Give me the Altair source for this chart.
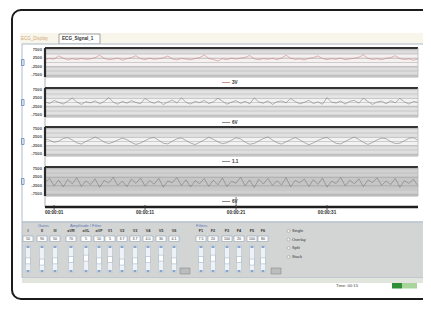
import altair as alt
import pandas as pd

# ---------------- data ----------------
trace1 = [1.8, 2.3, 2.0, 3.9, 2.6, 1.5, 2.2, 1.7, 2.4, 1.9,
          2.1, 2.8, 4.3, 2.5, 1.6, 2.0, 2.6, 1.4, 2.2, 2.9,
          4.0, 2.3, 1.7, 2.5, 1.9, 2.2, 2.8, 3.8, 2.1, 1.5,
          2.4, 2.0, 1.6, 2.3, 2.9, 4.4, 2.4, 1.8, 0.9, 2.2,
          1.7, 2.5, 2.0, 2.6, 3.0, 4.1, 2.2, 1.6, 2.3, 1.9,
          2.5, 1.7, 2.7, 4.2, 2.6, 1.8, 2.1, 1.5, 2.4, 2.9,
          3.9, 2.3, 1.7, 2.2, 1.9, 2.6, 1.6, 2.1, 2.5, 3.1,
          4.5, 2.4, 1.8, 2.2, 1.6, 2.5, 2.9, 4.0, 2.3, 1.7,
          2.1, 1.4, 2.0]
trace2 = [0.4, -0.6, 1.2, 0.1, -0.9, 0.8, 2.6, 0.3, -1.1, 0.5,
          -0.2, 1.0, -0.8, 0.6, 2.9, 0.2, -1.0, 0.7, -0.4, 1.1,
          0.0, -0.7, 2.4, 0.6, -0.5, 0.9, -1.2, 0.3, 1.4, -0.3,
          2.8, 0.1, -0.9, 0.6, -0.1, 1.2, -0.6, 0.4, 2.5, 0.8,
          -1.0, 0.2, 1.1, -0.5, 0.7, -0.8, 2.7, 0.3, -0.4, 1.0,
          -1.1, 0.5, 0.9, -0.2, 2.3, 0.6, -0.8, 0.1, 1.3, -0.6,
          0.4, -1.0, 2.9, 0.2, -0.3, 0.9, -0.9, 0.7, 1.2, -0.4,
          2.6, 0.5, -1.1, 0.3, 0.8, -0.7, 1.0, -0.2, 2.4, 0.4,
          -0.9, 0.6, 0.1]
trace3 = [1.5, 0.8, -0.5, 0.2, 1.8, 2.3, 0.9, -0.8, -1.5, 0.1,
          1.2, 2.6, 1.4, -0.3, -1.2, -0.4, 0.9, 2.0, 1.1, -0.6,
          -1.7, -0.9, 0.5, 1.9, 2.4, 0.7, -1.0, -1.4, 0.2, 1.6,
          2.1, 0.6, -0.9, -1.8, -0.5, 1.0, 2.5, 1.3, -0.2, -1.3,
          -0.7, 0.8, 2.2, 1.5, -0.4, -1.6, -1.1, 0.3, 1.7, 2.7,
          0.9, -0.7, -1.5, -0.2, 1.1, 2.3, 1.0, -0.6, -1.9, -0.8,
          0.6, 1.8, 2.4, 0.5, -1.1, -1.4, 0.0, 1.4, 2.6, 1.2,
          -0.5, -1.7, -0.6, 0.9, 2.0, 1.6, -0.1, -1.2, -1.0, 0.4,
          1.9, 2.2, 0.7]
trace4 = [-0.5, 1.8, -2.6, 0.9, -3.1, 1.2, -1.4, 2.2, -2.9, 0.4,
          -1.8, 1.6, -3.4, 0.7, -0.9, 2.4, -2.2, 0.2, -3.0, 1.4,
          -1.1, 2.0, -2.7, 0.6, -1.6, 1.9, -3.3, 0.3, -0.7, 2.3,
          -2.4, 1.0, -3.2, 0.5, -1.3, 1.7, -2.8, 0.8, -1.9, 2.1,
          -3.0, 0.1, -1.0, 2.5, -2.5, 0.9, -3.5, 1.3, -1.5, 1.8,
          -2.3, 0.4, -2.0, 2.2, -3.1, 0.6, -0.8, 1.5, -2.9, 1.1,
          -1.7, 2.0, -3.3, 0.2, -1.2, 2.4, -2.6, 0.7, -1.4, 1.6,
          -3.0, 0.9, -0.6, 2.1, -2.2, 0.3, -1.8, 1.9, -3.4, 0.5,
          -1.1, 1.4, -2.7]
traces = [trace1, trace2, trace3, trace4]
sample_step = 0.5
panel_names = ["3V", "6V", "1.1", "6V"]
trace_colors = ["#cf8585", "#808080", "#808080", "#7a7a7a"]

time_domain = [0, 41]
time_ticks = [1, 11, 21, 31]
time_labels = ["00:00:01", "00:00:11", "00:00:21", "00:00:31"]
value_domain = [-8.5, 8.5]
grid_values = [-7.5, -5.0, -2.5, 0.0, 2.5, 5.0, 7.5]
label_values = [7.5, 2.5, -2.5, -7.5]
label_texts = ["7500", "2500", "-2500", "-7500"]

panel_base = ["#dddddd", "#e2e2e2", "#e0e0e0", "#d0d0d0"]
panel_band = ["#f5f1f1", "#f2f2f2", "#f2f2f2", "#c6c6c6"]
panel_band_range = [(-2.2, 4.8), (-1.6, 3.4), (-2.4, 3.0), (-4.2, 2.8)]

# control-panel content
group_names = ["Gains", "Amplitude / Filter", "Filters"]
cols_a = [28, 42, 55]
cols_b = [71, 86, 99, 110, 122, 135, 148, 161, 174]
cols_c = [201, 213, 227, 239, 252, 263]
heads_a = ["I", "II", "III"]
heads_b = ["aVR", "aVL", "aVF", "V1", "V2", "V3", "V4", "V5", "V6"]
heads_c = ["F1", "F2", "F3", "F4", "F5", "F6"]
vals_a = ["50", "90", "50"]
vals_b = ["70", "5", "10", "5", "3.7", "3.7", "4.0", "30", "4.1"]
vals_c = ["7.5", "20", "100", "20", "100", "80"]
thumb_a = [0.6, 0.7, 0.6]
thumb_b = [0.5, 0.4, 0.6, 0.5, 0.7, 0.6, 0.5, 0.4, 0.6]
thumb_c = [0.5, 0.4, 0.6, 0.5, 0.7, 0.6]
radio_labels = ["Single", "Overlay", "Split", "Stack"]
tab_labels = ["ECG_Display", "ECG_Signal_1"]
status_text = "Time: 00:15"

# ---------------- layout ----------------
W, H = 415, 293
OX, OY = 8, 8
panel_tops = [48, 88, 127, 167]
PANEL_H = 29
PLOT_L, PLOT_R = 45, 418


def cx():
    return alt.Scale(domain=[OX, OX + W], range=[0, W])


def cy():
    return alt.Scale(domain=[OY, OY + H], range=[0, H])


def tx():
    return alt.Scale(domain=time_domain, range=[PLOT_L - OX, PLOT_R - OX])


def vy(top):
    return alt.Scale(domain=value_domain, range=[top + PANEL_H - OY, top - OY])


def rects(rows, **kw):
    df = pd.DataFrame(rows, columns=["x", "x2", "y", "y2", "fill", "stroke", "sw"])
    return alt.Chart(df).mark_rect(**kw).encode(
        x=alt.X("x:Q", scale=cx(), axis=None), x2="x2:Q",
        y=alt.Y("y:Q", scale=cy(), axis=None), y2="y2:Q",
        color=alt.Color("fill:N", scale=None),
        stroke=alt.Stroke("stroke:N", scale=None),
        strokeWidth=alt.StrokeWidth("sw:Q", scale=None),
    )


def rules(rows):
    df = pd.DataFrame(rows, columns=["x", "x2", "y", "y2", "c", "sw"])
    return alt.Chart(df).mark_rule().encode(
        x=alt.X("x:Q", scale=cx(), axis=None), x2="x2:Q",
        y=alt.Y("y:Q", scale=cy(), axis=None), y2="y2:Q",
        color=alt.Color("c:N", scale=None),
        strokeWidth=alt.StrokeWidth("sw:Q", scale=None),
    )


def texts(rows, **kw):
    df = pd.DataFrame(rows, columns=["x", "y", "label", "c"])
    return alt.Chart(df).mark_text(font="Liberation Sans", baseline="middle", **kw).encode(
        x=alt.X("x:Q", scale=cx(), axis=None),
        y=alt.Y("y:Q", scale=cy(), axis=None),
        text="label:N",
        color=alt.Color("c:N", scale=None),
    )


layers = []

# outer frame and window chrome
layers.append(rects([(12, 470, 10, 299, "#ffffff", "#1c1c1c", 2)], cornerRadius=9))
layers.append(rects([
    (20, 440, 33, 44, "#f8f5ea", "#f8f5ea", 0),
    (59, 100, 34, 44, "#ffffff", "#8a8a8a", 0.8),
    (22, 440, 44, 222, "#ffffff", "#aebccb", 1),
    (22, 440, 222, 278, "#d3d5d5", "#aebccb", 1),
    (22, 440, 278, 283, "#e2e4de", "#e2e4de", 0),
    (392, 402, 283, 288.5, "#2f8f34", "#2f8f34", 0),
    (402, 417, 283, 288.5, "#a9d59c", "#a9d59c", 0),
]))
layers.append(texts([(21, 38.5, tab_labels[0], "#d2aa7c")], fontSize=4.5, align="left"))
layers.append(texts([(62, 38.8, tab_labels[1], "#333333")], fontSize=4.6, align="left", fontWeight="bold"))

# left channel icons and thin vertical guide
icon_rows = []
for top in panel_tops:
    c = top + PANEL_H / 2
    icon_rows.append((21.5, 24, c - 3, c + 3, "transparent", "#6f8fc0", 0.9))
layers.append(rects(icon_rows))
layers.append(rules([(PLOT_L, PLOT_L, 48, 207, "#9a9a9a", 0.8)]))

# panels
for i, top in enumerate(panel_tops):
    t0, t1 = time_domain
    xs = alt.X("t0:Q", scale=tx(), axis=None)
    bg = pd.DataFrame([
        {"t0": t0, "t1": t1, "v0": value_domain[0], "v1": value_domain[1], "f": panel_base[i]},
        {"t0": t0, "t1": t1, "v0": panel_band_range[i][0], "v1": panel_band_range[i][1], "f": panel_band[i]},
    ])
    layers.append(alt.Chart(bg).mark_rect().encode(
        x=xs, x2="t1:Q",
        y=alt.Y("v0:Q", scale=vy(top), axis=None), y2="v1:Q",
        color=alt.Color("f:N", scale=None)))
    g = pd.DataFrame({
        "t0": t0, "t1": t1, "v": grid_values,
        "c": ["#a2a2a2" if v in label_values else "#bdbdbd" for v in grid_values],
    })
    layers.append(alt.Chart(g).mark_rule(strokeWidth=0.7).encode(
        x=xs, x2="t1:Q",
        y=alt.Y("v:Q", scale=vy(top), axis=None),
        color=alt.Color("c:N", scale=None)))
    tr = pd.DataFrame({"t": [k * sample_step for k in range(len(traces[i]))], "v": traces[i]})
    layers.append(alt.Chart(tr).mark_line(strokeWidth=0.6, color=trace_colors[i], clip=True).encode(
        x=alt.X("t:Q", scale=tx(), axis=None),
        y=alt.Y("v:Q", scale=vy(top), axis=None)))
    border = pd.DataFrame([
        {"t0": t0, "t1": t1, "v0": value_domain[1], "v1": value_domain[1], "c": "#333333", "w": 2.0},
        {"t0": t0, "t1": t1, "v0": value_domain[0], "v1": value_domain[0], "c": "#9c9c9c", "w": 0.8},
        {"t0": t0, "t1": t0, "v0": value_domain[0], "v1": value_domain[1], "c": "#2a2a2a", "w": 2.2},
        {"t0": t1, "t1": t1, "v0": value_domain[0], "v1": value_domain[1], "c": "#b8b8b8", "w": 0.8},
    ])
    layers.append(alt.Chart(border).mark_rule().encode(
        x=xs, x2="t1:Q",
        y=alt.Y("v0:Q", scale=vy(top), axis=None), y2="v1:Q",
        color=alt.Color("c:N", scale=None),
        strokeWidth=alt.StrokeWidth("w:Q", scale=None)))
    lab = pd.DataFrame({"v": label_values, "label": label_texts})
    layers.append(alt.Chart(lab).mark_text(
        align="right", baseline="middle", fontSize=4.2, fontWeight="bold",
        color="#555555", font="Liberation Sans").encode(
        x=alt.value(42 - OX),
        y=alt.Y("v:Q", scale=vy(top), axis=None),
        text="label:N"))
    # legend under the panel
    ly = top + PANEL_H + 5.5
    layers.append(rules([(222, 230, ly, ly, trace_colors[i], 0.9)]))
    layers.append(texts([(232, ly, panel_names[i], "#333333")], fontSize=4.6,
                        align="left", fontWeight="bold"))

# time axis
ax = pd.DataFrame({"t0": [time_domain[0]], "t1": [time_domain[1]]})
layers.append(alt.Chart(ax).mark_rule(strokeWidth=2.4, color="#1e1e1e").encode(
    x=alt.X("t0:Q", scale=tx(), axis=None), x2="t1:Q", y=alt.value(207 - OY)))
tk = pd.DataFrame({"t": time_ticks, "label": time_labels})
layers.append(alt.Chart(tk).mark_rule(strokeWidth=0.8, color="#333333").encode(
    x=alt.X("t:Q", scale=tx(), axis=None), y=alt.value(205 - OY), y2=alt.value(210 - OY)))
layers.append(alt.Chart(tk).mark_text(fontSize=4.6, fontWeight="bold", color="#2a2a2a",
                                      baseline="middle", font="Liberation Sans").encode(
    x=alt.X("t:Q", scale=tx(), axis=None), y=alt.value(213 - OY), text="label:N"))
cur = pd.DataFrame({"t": [time_ticks[2]]})
layers.append(alt.Chart(cur).mark_rule(strokeWidth=0.8, color="#555555").encode(
    x=alt.X("t:Q", scale=tx(), axis=None), y=alt.value(197 - OY), y2=alt.value(207 - OY)))

# control panel
layers.append(texts([(38, 226, group_names[0], "#5b78b8"),
                     (70, 226, group_names[1], "#5b78b8"),
                     (196, 226, group_names[2], "#5b78b8")], fontSize=4.2, align="left"))
cols = cols_a + cols_b + cols_c
heads = heads_a + heads_b + heads_c
vals = vals_a + vals_b + vals_c
thumbs = thumb_a + thumb_b + thumb_c
ctrl = []
for c, f in zip(cols, thumbs):
    ctrl.append((c - 5, c + 5, 236, 241.5, "#ffffff", "#8fa0b0", 0.6))
    ctrl.append((c - 2.5, c + 2.5, 245.5, 272.5, "#eef2f7", "#b4c2d0", 0.6))
    ctrl.append((c - 1.5, c + 1.5, 246, 248, "#88a4c8", "#88a4c8", 0))
    ctrl.append((c - 1.5, c + 1.5, 270, 272, "#88a4c8", "#88a4c8", 0))
    ty = 250 + f * 13
    ctrl.append((c - 2.5, c + 2.5, ty, ty + 6, "#ffffff", "#95a8bd", 0.5))
ctrl.append((180, 190, 268, 274, "#b9bdbd", "#8a8a8a", 0.6))
ctrl.append((271, 281, 268, 274, "#b9bdbd", "#8a8a8a", 0.6))
layers.append(rects(ctrl))
layers.append(texts([(c, 231, h, "#333333") for c, h in zip(cols, heads)],
                    fontSize=3.8, fontWeight="bold"))
layers.append(texts([(c, 238.8, v, "#333333") for c, v in zip(cols, vals)],
                    fontSize=3.6))
radio_y = [231, 239.5, 248, 257]
rad = pd.DataFrame({"x": [288.5] * 4, "y": radio_y})
layers.append(alt.Chart(rad).mark_point(shape="circle", size=9, filled=True, fill="#ffffff",
                                        stroke="#8a8a8a", strokeWidth=0.6).encode(
    x=alt.X("x:Q", scale=cx(), axis=None), y=alt.Y("y:Q", scale=cy(), axis=None)))
layers.append(texts([(292, y, l, "#333333") for y, l in zip(radio_y, radio_labels)],
                    fontSize=4.0, align="left"))
layers.append(texts([(336, 286, status_text, "#444444")], fontSize=4.2, align="left"))

chart = alt.layer(*layers).resolve_scale(
    x="independent", y="independent"
).properties(
    width=W, height=H, padding=0, autosize=alt.AutoSizeParams(type="none")
).configure_view(stroke=None)

chart.save("out.html", embed_options={"renderer": "svg", "actions": False})
